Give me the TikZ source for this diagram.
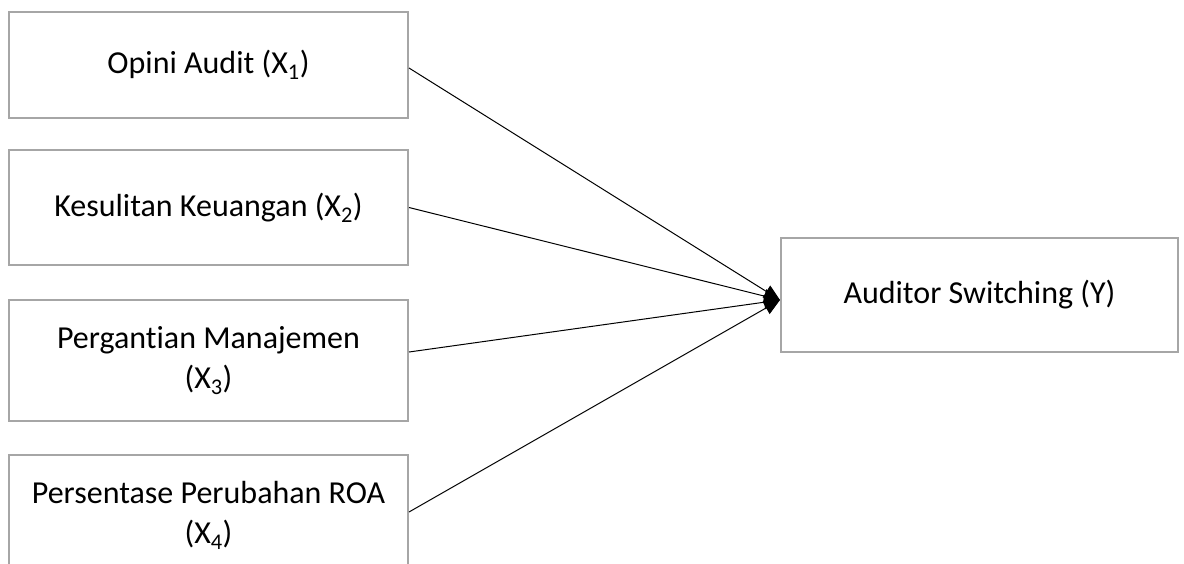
\documentclass[tikz,border=0pt]{standalone}
\usepackage{fontspec}
\setmainfont[Ligatures=NoCommon]{Carlito}
\usetikzlibrary{arrows.meta}
\tikzset{
    varbox/.style={draw=gray!70, line width=2pt, minimum width=399pt, inner sep=0pt,
        align=center, font=\fontsize{32}{40}\selectfont},
    link/.style={-{Triangle[length=16pt,width=14pt]}, line width=1pt}
}
\begin{document}
\begin{tikzpicture}[x=1pt,y=-1pt]
            \useasboundingbox (0,0) rectangle (1184,563);
            \clip (0,0) rectangle (1184,563);

            \node[varbox, minimum height=106pt] (opini) at (208.5,65) {Opini Audit (X\textsubscript{1})};
            \node[varbox, minimum height=115pt] (kesulitan) at (208.5,207.5) {Kesulitan Keuangan (X\textsubscript{2})};
            \node[varbox, minimum height=121pt] (pergantian) at (208.5,360.5) {Pergantian Manajemen\\(X\textsubscript{3})};
            \node[varbox, minimum height=120pt] (roa) at (208.5,515) {Persentase Perubahan ROA\\(X\textsubscript{4})};

            \node[varbox, minimum width=397pt, minimum height=114pt] (switching) at (979.5,295) {Auditor Switching (Y)};

            \draw[link] ([yshift=-3pt]opini.east) -- ([yshift=-5pt]switching.west);
            \draw[link] (kesulitan.east) -- ([yshift=-5pt]switching.west);
            \draw[link] ([yshift=8.5pt]pergantian.east) -- ([yshift=-5pt]switching.west);
            \draw[link] ([yshift=3pt]roa.east) -- ([yshift=-5pt]switching.west);
        \end{tikzpicture}
\end{document}
